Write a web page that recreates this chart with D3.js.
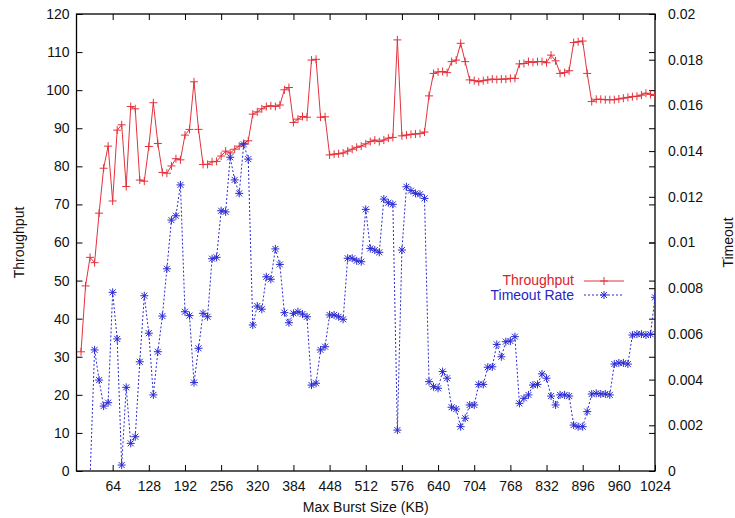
<!DOCTYPE html>
<html>
<head>
<meta charset="utf-8">
<script src="https://cdn.jsdelivr.net/npm/d3@7"></script>
<style>
  body { margin: 0; background: #fff; }
  text { font-family: "Liberation Sans", Arial, sans-serif; font-size: 14px; }
</style>
</head>
<body>
<script>
// burst sizes (KB) on the x axis
var burstSize = [8,16,24,32,40,48,56,64,72,80,88,96,104,112,120,128,
  136,144,152,160,168,176,184,192,200,208,216,224,232,240,248,256,
  264,272,280,288,296,304,312,320,328,336,344,352,360,368,376,384,
  392,400,408,416,424,432,440,448,456,464,472,480,488,496,504,512,
  520,528,536,544,552,560,568,576,584,592,600,608,616,624,632,640,
  648,656,664,672,680,688,696,704,712,720,728,736,744,752,760,768,
  776,784,792,800,808,816,824,832,840,848,856,864,872,880,888,896,
  904,912,920,928,936,944,952,960,968,976,984,992,1000,1008,1016,1024];

// throughput, left axis
var throughput = [31.3,48.6,56.1,54.7,67.7,79.5,85.3,70.9,89.5,90.9,74.7,95.7,95.1,76.4,76.1,85.2,
  96.7,86.0,78.4,78.2,80.1,82.0,81.7,88.2,89.7,102.2,89.7,80.5,80.5,81.2,81.3,82.7,
  84.0,83.5,84.5,85.3,86.0,86.7,93.7,94.3,95.1,95.7,95.9,95.7,96.1,100.1,100.7,91.5,
  92.4,93.1,92.9,107.9,108.1,92.9,93.0,83.0,83.2,83.3,83.5,84.0,84.5,85.0,85.3,85.9,
  86.5,86.9,86.5,86.9,87.4,87.6,113.2,88.0,88.2,88.4,88.5,88.6,89.0,98.5,104.4,104.8,
  104.9,104.6,107.5,107.9,112.3,107.5,102.7,102.5,102.2,102.5,102.7,102.9,102.8,102.9,102.9,103.1,
  103.1,106.9,107.0,107.5,107.3,107.5,107.5,107.2,109.2,107.7,104.4,104.6,105.1,112.5,112.7,112.9,
  104.4,97.0,97.6,97.6,97.5,97.5,97.5,97.7,97.9,98.1,98.3,98.4,98.7,99.2,98.9,98.6];

// timeout rate, right axis (null = no point)
var timeoutRate = [null,null,-0.0003,0.0053,0.00398,0.00284,0.00299,0.00782,0.00578,0.00026,0.00366,0.00121,0.0015,0.00478,0.00767,0.00603,
  0.00333,0.00522,0.00678,0.00885,0.01098,0.01117,0.01252,0.00697,0.0068,0.00387,0.00537,0.0069,0.00675,0.00929,0.00935,0.01139,
  0.01134,0.01373,0.01274,0.01215,0.0143,0.01365,0.00639,0.00722,0.00708,0.0085,0.00839,0.00972,0.00904,0.00693,0.00649,0.0069,
  0.00697,0.00687,0.00675,0.00376,0.00384,0.0053,0.00544,0.00683,0.00683,0.00675,0.00664,0.00931,0.00931,0.0092,0.00916,0.01145,
  0.00974,0.00967,0.00957,0.0119,0.01174,0.01167,0.00179,0.00967,0.01244,0.01227,0.01215,0.01211,0.01193,0.00391,0.00369,0.00362,
  0.00435,0.00406,0.00279,0.00271,0.00194,0.00231,0.00289,0.00289,0.00379,0.00379,0.00454,0.00456,0.00554,0.005,0.00566,0.00569,
  0.00588,0.00296,0.00318,0.00333,0.00376,0.00379,0.00425,0.00406,0.00328,0.00289,0.00333,0.00333,0.00328,0.00201,0.00194,0.00194,
  0.0026,0.00337,0.0034,0.00337,0.00337,0.00333,0.00468,0.00473,0.00473,0.00468,0.00595,0.00599,0.00599,0.00595,0.00599,0.0076];

var xTicks = [64,128,192,256,320,384,448,512,576,640,704,768,832,896,960,1024];
var y1Ticks = [0,10,20,30,40,50,60,70,80,90,100,110,120];
var y2Ticks = [0,0.002,0.004,0.006,0.008,0.01,0.012,0.014,0.016,0.018,0.02];
var seriesNames = ["Throughput", "Timeout Rate"];

var svgWidth = 735, svgHeight = 518,
    plotLeft = 76.5, plotRight = 655, plotTop = 14, plotBottom = 471,
    tickLen = 6,
    redColor = "#e4323c",
    blueColor = "#2a2ad2";

var svg = d3.select("body").append("svg")
  .attr("width", svgWidth)
  .attr("height", svgHeight);

var x = d3.scaleLinear().domain([0, 1024]).range([plotLeft, plotRight]);
var y1 = d3.scaleLinear().domain([0, 120]).range([plotBottom, plotTop]);
var y2 = d3.scaleLinear().domain([0, 0.02]).range([plotBottom, plotTop]);

svg.append("clipPath").attr("id", "plotClip")
  .append("rect")
  .attr("x", plotLeft).attr("y", plotTop)
  .attr("width", plotRight - plotLeft).attr("height", plotBottom - plotTop);

// axes: ticks point inward like gnuplot
function noDomain(g) { g.select(".domain").remove(); }

svg.append("g")
  .attr("transform", "translate(0," + plotBottom + ")")
  .call(d3.axisBottom(x).tickValues(xTicks).tickSizeInner(-tickLen).tickSizeOuter(0).tickPadding(10).tickFormat(d3.format("d")))
  .call(noDomain);

svg.append("g")
  .attr("transform", "translate(0," + plotTop + ")")
  .call(d3.axisTop(x).tickValues(xTicks).tickSizeInner(-tickLen).tickSizeOuter(0).tickFormat(""))
  .call(noDomain);

svg.append("g")
  .attr("transform", "translate(" + plotLeft + ",0)")
  .call(d3.axisLeft(y1).tickValues(y1Ticks).tickSizeInner(-tickLen).tickSizeOuter(0).tickPadding(7).tickFormat(d3.format("d")))
  .call(noDomain);

// mirrored y1 ticks on the right border
svg.append("g")
  .attr("transform", "translate(" + plotRight + ",0)")
  .call(d3.axisRight(y1).tickValues(y1Ticks).tickSizeInner(-tickLen).tickSizeOuter(0).tickFormat(""))
  .call(noDomain);

svg.append("g")
  .attr("transform", "translate(" + plotRight + ",0)")
  .call(d3.axisRight(y2).tickValues(y2Ticks).tickSizeInner(-tickLen).tickSizeOuter(0).tickPadding(13)
    .tickFormat(function(d) { return d === 0 ? "0" : String(+d.toFixed(3)); }))
  .call(noDomain);

svg.selectAll(".tick text")
  .style("font-family", "'Liberation Sans', Arial, sans-serif")
  .style("font-size", "14px")
  .attr("fill", "#111");
svg.selectAll(".tick line").attr("stroke", "#000").attr("stroke-width", 1);

// border
svg.append("rect")
  .attr("x", plotLeft).attr("y", plotTop)
  .attr("width", plotRight - plotLeft).attr("height", plotBottom - plotTop)
  .attr("fill", "none").attr("stroke", "#000").attr("stroke-width", 1.3);

var plot = svg.append("g").attr("clip-path", "url(#plotClip)");

var redData = burstSize.map(function(k, i) { return {x: k, v: throughput[i]}; });
var blueData = burstSize.map(function(k, i) { return {x: k, v: timeoutRate[i]}; })
  .filter(function(d) { return d.v !== null; });

// throughput line and + markers
plot.append("path")
  .datum(redData)
  .attr("fill", "none")
  .attr("stroke", redColor)
  .attr("stroke-width", 1)
  .attr("d", d3.line().x(function(d) { return x(d.x); }).y(function(d) { return y1(d.v); }));

function plus(sel, s) {
  sel.append("path")
    .attr("d", "M" + (-s) + ",0H" + s + "M0," + (-s) + "V" + s);
}
function star(sel, s) {
  var d = s * 0.75;
  sel.append("path")
    .attr("d", "M" + (-s) + ",0H" + s + "M0," + (-s) + "V" + s +
      "M" + (-d) + "," + (-d) + "L" + d + "," + d + "M" + (-d) + "," + d + "L" + d + "," + (-d));
}

plot.append("g")
  .attr("stroke", redColor).attr("stroke-width", 1).attr("fill", "none")
  .selectAll("g").data(redData).enter().append("g")
  .attr("transform", function(d) { return "translate(" + x(d.x) + "," + y1(d.v) + ")"; })
  .each(function() { plus(d3.select(this), 4); });

// timeout rate dashed line and * markers
plot.append("path")
  .datum(blueData)
  .attr("fill", "none")
  .attr("stroke", blueColor)
  .attr("stroke-width", 1)
  .attr("stroke-dasharray", "2,2")
  .attr("d", d3.line().x(function(d) { return x(d.x); }).y(function(d) { return y2(d.v); }));

plot.append("g")
  .attr("stroke", blueColor).attr("stroke-width", 1).attr("fill", "none")
  .selectAll("g").data(blueData.filter(function(d) { return d.v >= 0; })).enter().append("g")
  .attr("transform", function(d) { return "translate(" + x(d.x) + "," + y2(d.v) + ")"; })
  .each(function() { star(d3.select(this), 4); });

// axis titles
svg.append("text")
  .attr("transform", "translate(24," + ((plotTop + plotBottom) / 2) + ") rotate(-90)")
  .attr("text-anchor", "middle")
  .attr("fill", "#111")
  .text("Throughput");

svg.append("text")
  .attr("transform", "translate(733," + ((plotTop + plotBottom) / 2) + ") rotate(-90)")
  .attr("text-anchor", "middle")
  .attr("fill", "#111")
  .text("Timeout");

svg.append("text")
  .attr("x", (plotLeft + plotRight) / 2)
  .attr("y", 512)
  .attr("text-anchor", "middle")
  .attr("fill", "#111")
  .text("Max Burst Size (KB)");

// legend
var legend = svg.append("g");
legend.append("text").attr("x", 574).attr("y", 285).attr("text-anchor", "end")
  .attr("fill", "#d8222c").text(seriesNames[0]);
legend.append("line").attr("x1", 584).attr("x2", 624).attr("y1", 281).attr("y2", 281)
  .attr("stroke", redColor);
legend.append("g").attr("stroke", redColor).attr("transform", "translate(604,281)")
  .each(function() { plus(d3.select(this), 4); });

legend.append("text").attr("x", 574).attr("y", 300).attr("text-anchor", "end")
  .attr("fill", "#2626c4").text(seriesNames[1]);
legend.append("line").attr("x1", 584).attr("x2", 624).attr("y1", 295).attr("y2", 295)
  .attr("stroke", blueColor).attr("stroke-dasharray", "2,2");
legend.append("g").attr("stroke", blueColor).attr("transform", "translate(604,295)")
  .each(function() { star(d3.select(this), 4); });
</script>
</body>
</html>
